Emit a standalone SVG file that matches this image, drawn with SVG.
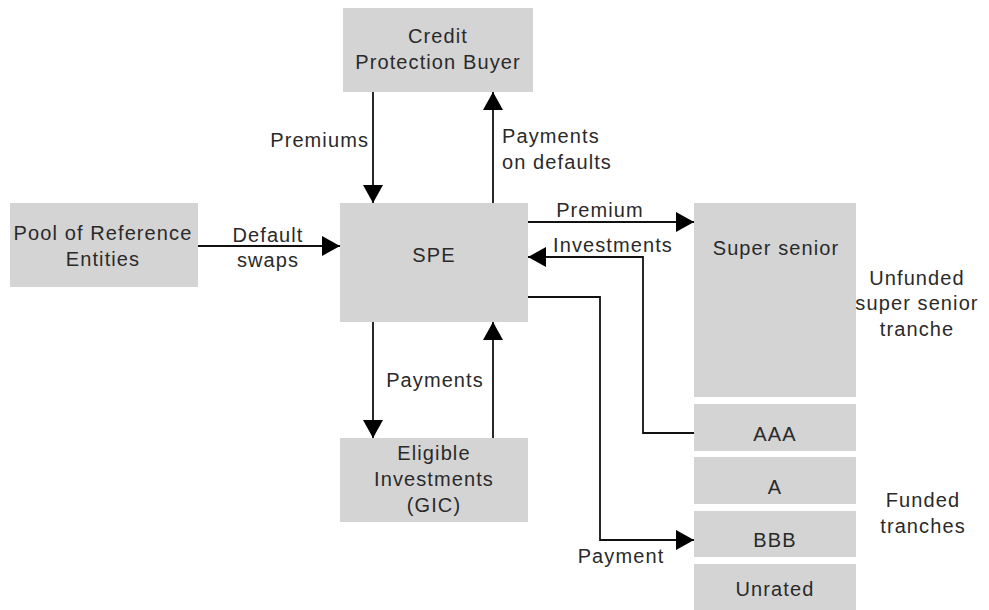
<svg xmlns="http://www.w3.org/2000/svg" width="989" height="610" viewBox="0 0 989 610">
  <defs>
    <marker id="head" viewBox="0 0 18 20" refX="18" refY="10" markerWidth="18" markerHeight="20" markerUnits="userSpaceOnUse" orient="auto">
      <path d="M0,0 L18,10 L0,20 Z" fill="#000"/>
    </marker>
  </defs>
  <style>
    .box { fill: #d4d4d4; }
    text { font-family: "Liberation Sans", Arial, sans-serif; font-size: 20px; fill: #2a2a2a; letter-spacing: 1.1px; }
    .c { text-anchor: middle; }
    .r { text-anchor: end; }
    .link { fill: none; stroke: #111; stroke-width: 1.8; }
    .arrow { marker-end: url(#head); }
  </style>
  <rect width="989" height="610" fill="#fff"/>

  <g id="buyer">
    <rect class="box" x="343" y="8" width="190" height="84"/>
    <text class="c" x="438" y="43">Credit</text>
    <text class="c" x="438" y="69">Protection Buyer</text>
  </g>

  <g id="pool">
    <rect class="box" x="10" y="203" width="188" height="84"/>
    <text class="c" x="103" y="240">Pool of Reference</text>
    <text class="c" x="103" y="266">Entities</text>
  </g>

  <g id="spe">
    <rect class="box" x="340" y="203" width="188" height="119"/>
    <text class="c" x="434" y="262">SPE</text>
  </g>

  <g id="gic">
    <rect class="box" x="340" y="438" width="188" height="84"/>
    <text class="c" x="434" y="460">Eligible</text>
    <text class="c" x="434" y="486">Investments</text>
    <text class="c" x="434" y="512">(GIC)</text>
  </g>

  <g id="super-senior">
    <rect class="box" x="694" y="203" width="162" height="194"/>
    <text class="c" x="776" y="255">Super senior</text>
  </g>

  <g id="aaa">
    <rect class="box" x="694" y="404" width="162" height="47"/>
    <text class="c" x="775" y="441">AAA</text>
  </g>

  <g id="a">
    <rect class="box" x="694" y="457" width="162" height="47"/>
    <text class="c" x="775" y="494">A</text>
  </g>

  <g id="bbb">
    <rect class="box" x="694" y="511" width="162" height="46"/>
    <text class="c" x="775" y="547">BBB</text>
  </g>

  <g id="unrated">
    <rect class="box" x="694" y="564" width="162" height="46"/>
    <text class="c" x="775" y="596">Unrated</text>
  </g>

  <g id="unfunded-label">
    <text class="c" x="917" y="285">Unfunded</text>
    <text class="c" x="917" y="310">super senior</text>
    <text class="c" x="917" y="336">tranche</text>
  </g>

  <g id="funded-label">
    <text class="c" x="923" y="507">Funded</text>
    <text class="c" x="923" y="533">tranches</text>
  </g>

  <g id="connectors">
    <!-- buyer -> SPE: premiums -->
    <path class="link arrow" d="M373,92 V203"/>
    <text class="r" x="369" y="147">Premiums</text>
    <!-- SPE -> buyer: payments on defaults -->
    <path class="link arrow" d="M493,203 V92"/>
    <text x="502" y="143">Payments</text>
    <text x="502" y="169">on defaults</text>
    <!-- pool -> SPE: default swaps -->
    <path class="link arrow" d="M198,246 H340"/>
    <text class="c" x="268" y="242">Default</text>
    <text class="c" x="268" y="267">swaps</text>
    <!-- SPE -> super senior: premium -->
    <path class="link arrow" d="M528,222 H694"/>
    <text class="c" x="600" y="217">Premium</text>
    <!-- AAA -> SPE: investments -->
    <path class="link arrow" d="M694,433 H643 V257 H528"/>
    <text class="c" x="613" y="252">Investments</text>
    <!-- SPE -> BBB: payment -->
    <path class="link arrow" d="M528,297 H600 V540 H694"/>
    <text class="c" x="621" y="563">Payment</text>
    <!-- SPE <-> eligible investments: payments -->
    <path class="link arrow" d="M373,322 V438"/>
    <path class="link arrow" d="M493,438 V322"/>
    <text class="c" x="435" y="387">Payments</text>
  </g>
</svg>
